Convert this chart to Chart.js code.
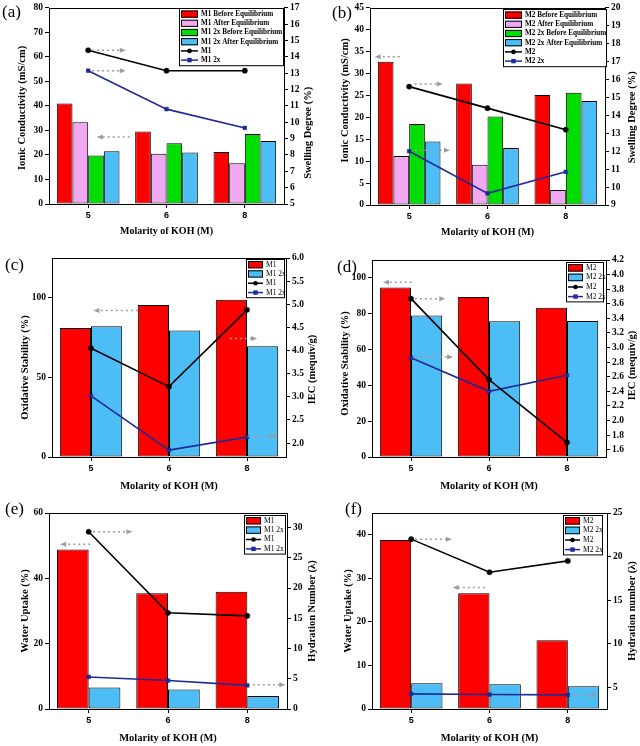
<!DOCTYPE html>
<html><head><meta charset="utf-8">
<script src="https://cdn.jsdelivr.net/npm/chart.js@4.4.0/dist/chart.umd.min.js"></script>
<style>
html,body{margin:0;padding:0;background:#fff;}
#fig{position:relative;width:640px;height:746px;overflow:hidden;background:#fff;}
#fig canvas{position:absolute;}
.lbl{position:absolute;font-family:'Liberation Serif',serif;font-size:17px;color:#000;line-height:1;}
</style></head>
<body><div id="fig"></div>
<script>
// ---------- data ----------
const molarity = ['5', '6', '8'];
// (a)
const m1BeforeEq   = [41.0, 29.5, 21.2];
const m1AfterEq    = [33.3, 20.5, 16.6];
const m12xBeforeEq = [19.8, 24.8, 28.5];
const m12xAfterEq  = [21.5, 21.0, 25.7];
const m1Swelling   = [14.4, 13.15, 13.15];
const m12xSwelling = [13.15, 10.8, 9.65];
// (b)
const m2BeforeEq   = [32.7, 27.7, 25.1];
const m2AfterEq    = [11.2, 9.2, 3.4];
const m22xBeforeEq = [18.5, 20.2, 25.6];
const m22xAfterEq  = [14.5, 13.0, 23.7];
const m2Swelling   = [15.6, 14.4, 13.2];
const m22xSwelling = [12.0, 9.65, 10.85];
// (c)
const m1Oxidative   = [81.0, 95.5, 98.8];
const m12xOxidative = [82.2, 79.5, 69.5];
const m1IEC   = [4.05, 3.22, 4.88];
const m12xIEC = [3.02, 1.85, 2.13];
// (d)
const m2Oxidative   = [94.6, 89.4, 83.3];
const m22xOxidative = [79.0, 75.8, 76.0];
const m2IEC   = [3.67, 2.56, 1.70];
const m22xIEC = [2.86, 2.40, 2.62];
// (e)
const m1WaterUptake   = [48.8, 35.4, 35.9];
const m12xWaterUptake = [6.6, 6.0, 4.0];
const m1Hydration   = [29.3, 15.9, 15.4];
const m12xHydration = [5.3, 4.7, 3.9];
// (f)
const m2WaterUptake   = [38.8, 26.6, 15.8];
const m22xWaterUptake = [5.9, 5.7, 5.2];
const m2Hydration   = [22.0, 18.2, 19.5];
const m22xHydration = [4.24, 4.16, 4.12];

// tick values
const ticksA  = [0,10,20,30,40,50,60,70,80];
const ticksA2 = [5,6,7,8,9,10,11,12,13,14,15,16,17];
const ticksB  = [0,5,10,15,20,25,30,35,40,45];
const ticksB2 = [9,10,11,12,13,14,15,16,17,18,19,20];
const ticksC  = [0,50,100];
const ticksC2 = [2.0,2.5,3.0,3.5,4.0,4.5,5.0,5.5,6.0];
const ticksD  = [0,20,40,60,80,100];
const ticksD2 = [1.6,1.8,2.0,2.2,2.4,2.6,2.8,3.0,3.2,3.4,3.6,3.8,4.0,4.2];
const ticksE  = [0,20,40,60];
const ticksE2 = [0,5,10,15,20,25,30];
const ticksF  = [0,10,20,30,40];
const ticksF2 = [5,10,15,20,25];

// ---------- styles ----------
const RED = '#ff0000', PINK = '#f0a8f0', GREEN = '#00dd00', BLUE = '#4dbdf5', NAVY = '#1f2a96', BLACK = '#000000';
Chart.defaults.font.family = "'Liberation Serif', serif";
Chart.defaults.color = '#000';

// ---------- plugins ----------
const framePlugin = {
  id: 'frame',
  afterDraw(chart) {
    const a = chart.chartArea, ctx = chart.ctx;
    ctx.save(); ctx.strokeStyle = '#000'; ctx.lineWidth = 1;
    const l = Math.round(a.left) + 0.5, t = Math.round(a.top) + 0.5;
    ctx.strokeRect(l, t, Math.round(a.right) - Math.round(a.left), Math.round(a.bottom) - Math.round(a.top));
    ctx.restore();
  }
};
const sideTitles = {
  id: 'sideTitles',
  afterDraw(chart, args, o) {
    const ctx = chart.ctx, a = chart.chartArea, mid = (a.top + a.bottom) / 2;
    ctx.save(); ctx.fillStyle = '#000'; ctx.textAlign = 'center'; ctx.textBaseline = 'middle';
    ctx.font = o.yFont;
    [[o.left, o.leftX, o.leftDy], [o.right, o.rightX, o.rightDy]].forEach(([t, x, dy]) => {
      ctx.save(); ctx.translate(x, mid + dy); ctx.rotate(-Math.PI / 2); ctx.fillText(t, 0, 0); ctx.restore();
    });
    ctx.font = o.xFont;
    ctx.fillText(o.bottom, (a.left + a.right) / 2, o.bottomY);
    ctx.restore();
  }
};
const boxLegend = {
  id: 'boxLegend',
  afterDraw(chart, args, o) {
    const ctx = chart.ctx, ds = chart.data.datasets, n = ds.length;
    const x0 = o.x, y0 = o.y, w = o.w, rh = o.rowH, h = rh * n + 2 * o.padY;
    ctx.save();
    ctx.fillStyle = '#fff'; ctx.fillRect(x0, y0, w, h);
    ctx.strokeStyle = '#000'; ctx.lineWidth = 1; ctx.strokeRect(x0 + 0.5, y0 + 0.5, w, h);
    ds.forEach((d, i) => {
      const cy = y0 + o.padY + rh * (i + 0.5) + 0.5;
      const sx = x0 + 2, sw = o.sw;
      if (d.type === 'line') {
        ctx.strokeStyle = d.borderColor; ctx.lineWidth = 1.5;
        ctx.beginPath(); ctx.moveTo(sx, cy); ctx.lineTo(sx + sw, cy); ctx.stroke();
        ctx.fillStyle = d.pointBackgroundColor;
        if (d.pointStyle === 'rect') ctx.fillRect(sx + sw / 2 - 2.2, cy - 2.2, 4.4, 4.4);
        else { ctx.beginPath(); ctx.arc(sx + sw / 2, cy, 2.3, 0, 2 * Math.PI); ctx.fill(); }
      } else {
        ctx.fillStyle = d.backgroundColor; ctx.fillRect(sx, cy - rh / 2 + 1, sw, rh - 2);
        ctx.strokeStyle = '#000'; ctx.lineWidth = 1; ctx.strokeRect(sx + 0.5, cy - rh / 2 + 1.5, sw - 1, rh - 3);
      }
      ctx.fillStyle = '#000'; ctx.font = o.font; ctx.textBaseline = 'middle'; ctx.textAlign = 'left';
      ctx.fillText(d.label, sx + sw + 3, cy);
    });
    ctx.restore();
  }
};
const dotArrows = {
  id: 'dotArrows',
  afterDatasetsDraw(chart, args, o) {
    const ctx = chart.ctx, xs = chart.scales.x;
    (o.list || []).forEach(a => {
      const y = chart.scales[a.axis].getPixelForValue(a.value);
      const x1 = xs.getPixelForValue(a.tail), x2 = xs.getPixelForValue(a.head);
      const dir = Math.sign(x2 - x1);
      ctx.save(); ctx.strokeStyle = '#9c9c9c'; ctx.fillStyle = '#9c9c9c'; ctx.lineWidth = 1.5;
      ctx.setLineDash([2, 3]);
      ctx.beginPath(); ctx.moveTo(x1, y); ctx.lineTo(x2 - dir * 5, y); ctx.stroke();
      ctx.setLineDash([]);
      ctx.beginPath(); ctx.moveTo(x2, y); ctx.lineTo(x2 - dir * 6, y - 2.5); ctx.lineTo(x2 - dir * 6, y + 2.5); ctx.closePath(); ctx.fill();
      ctx.restore();
    });
  }
};

// ---------- dataset helpers ----------
function bar(label, data, color) {
  return { type: 'bar', label, data, backgroundColor: color, borderColor: '#000', borderWidth: 1,
           borderSkipped: false, yAxisID: 'y', order: 1, categoryPercentage: 0.8, barPercentage: 1.0 };
}
function line(label, data, color, style) {
  return { type: 'line', label, data, borderColor: color, backgroundColor: color, borderWidth: 1.6,
           pointStyle: style, pointRadius: style === 'rect' ? 2.6 : 2.6, pointBackgroundColor: color,
           pointBorderColor: color, pointBorderWidth: 0.5, yAxisID: 'y2', order: 0, tension: 0 };
}

const tickFontY = { family: "'Liberation Serif', serif", size: 9.5, weight: 'bold' };
const tickFontX = { family: "'Liberation Sans', sans-serif", size: 9, weight: 'bold' };

function makePanel(p) {
  const fig = document.getElementById('fig');
  const c = document.createElement('canvas');
  c.width = 320; c.height = p.h;
  c.style.left = p.left + 'px'; c.style.top = p.top + 'px';
  c.style.width = '320px'; c.style.height = p.h + 'px';
  fig.appendChild(c);
  const lab = document.createElement('div');
  lab.className = 'lbl'; lab.textContent = p.tag;
  lab.style.left = (p.left + p.tagX) + 'px'; lab.style.top = (p.top + p.tagY) + 'px';
  fig.appendChild(lab);
  const grid = { drawOnChartArea: false, drawTicks: true, tickLength: 4, color: '#000', lineWidth: 1 };
  new Chart(c, {
    type: 'bar',
    data: { labels: molarity, datasets: p.datasets },
    options: {
      responsive: false, animation: false, devicePixelRatio: 1,
      layout: { padding: { top: p.padTop, left: 0, right: 0, bottom: 0 } },
      plugins: {
        legend: { display: false }, tooltip: { enabled: false },
        boxLegend: p.legend,
        dotArrows: { list: p.arrows },
        sideTitles: p.titles
      },
      scales: {
        x: { grid: Object.assign({}, grid, { offset: false }), border: { display: false },
             ticks: { font: tickFontX, color: '#000', padding: 2 },
             afterFit: s => { s.height = p.xH; } },
        y: { position: 'left', min: p.yMin, max: p.yMax, grid, border: { display: false },
             ticks: { font: tickFontY, color: '#000', padding: 2, callback: v => v.toFixed(p.yDec) },
             afterBuildTicks: s => { s.ticks = p.yTicks.map(v => ({ value: v })); },
             afterFit: s => { s.width = p.leftW; } },
        y2: { position: 'right', min: p.y2Min, max: p.y2Max, grid, border: { display: false },
              ticks: { font: tickFontY, color: '#000', padding: 2, callback: v => v.toFixed(p.y2Dec) },
              afterBuildTicks: s => { s.ticks = p.y2Ticks.map(v => ({ value: v })); },
              afterFit: s => { s.width = p.rightW; } }
      }
    },
    plugins: [dotArrows, sideTitles, framePlugin, boxLegend]
  });
}

const bigLegendFont = "bold 7.2px 'Liberation Serif'";
const smallLegendFont = "7.5px 'Liberation Serif'";
const yTitleFont = "bold 10.5px 'Liberation Serif'";
const xTitleFont = "bold 10px 'Liberation Serif'";

// (a)
makePanel({
  left: 0, top: 0, h: 240, tag: '(a)', tagX: 2, tagY: 3,
  padTop: 5, leftW: 49, rightW: 36, xH: 36,
  yMin: 0, yMax: 80, yTicks: ticksA, yDec: 0, y2Min: 5, y2Max: 17, y2Ticks: ticksA2, y2Dec: 0,
  datasets: [
    bar('M1 Before Equilibrium', m1BeforeEq, RED),
    bar('M1 After Equilibrium', m1AfterEq, PINK),
    bar('M1 2x Before Equilibrium', m12xBeforeEq, GREEN),
    bar('M1 2x After Equilibrium', m12xAfterEq, BLUE),
    line('M1', m1Swelling, BLACK, 'circle'),
    line('M1 2x', m12xSwelling, NAVY, 'rect')
  ],
  legend: { x: 179, y: 8, w: 104, rowH: 9.2, padY: 1, sw: 17, font: bigLegendFont },
  arrows: [
    { tail: 0.05, head: 0.48, axis: 'y2', value: 14.4 },
    { tail: 0.05, head: 0.48, axis: 'y2', value: 13.15 },
    { tail: 0.53, head: 0.11, axis: 'y', value: 27.3 }
  ],
  titles: { left: 'Ionic Conductivity (mS/cm)', leftX: 22, leftDy: 2, right: 'Swelling Degree (%)', rightX: 308, rightDy: 27,
            bottom: 'Molarity of KOH (M)', bottomY: 231, yFont: yTitleFont, xFont: xTitleFont }
});
// (b)
makePanel({
  left: 320, top: 0, h: 240, tag: '(b)', tagX: 12, tagY: 4,
  padTop: 5, leftW: 50, rightW: 35, xH: 35,
  yMin: 0, yMax: 45, yTicks: ticksB, yDec: 0, y2Min: 9, y2Max: 20, y2Ticks: ticksB2, y2Dec: 0,
  datasets: [
    bar('M2 Before Equilibrium', m2BeforeEq, RED),
    bar('M2 After Equilibrium', m2AfterEq, PINK),
    bar('M2 2x Before Equilibrium', m22xBeforeEq, GREEN),
    bar('M2 2x After Equilibrium', m22xAfterEq, BLUE),
    line('M2', m2Swelling, BLACK, 'circle'),
    line('M2 2x', m22xSwelling, NAVY, 'rect')
  ],
  legend: { x: 183, y: 9, w: 103, rowH: 9.2, padY: 1, sw: 17, font: bigLegendFont },
  arrows: [
    { tail: -0.12, head: -0.44, axis: 'y', value: 33.8 },
    { tail: 0.07, head: 0.43, axis: 'y2', value: 15.75 },
    { tail: 0.07, head: 0.52, axis: 'y2', value: 12.05 }
  ],
  titles: { left: 'Ionic Conductivity (mS/cm)', leftX: 25, leftDy: -6, right: 'Swelling Degree (%)', rightX: 312, rightDy: 11,
            bottom: 'Molarity of KOH (M)', bottomY: 232, yFont: yTitleFont, xFont: xTitleFont }
});
// (c)
makePanel({
  left: 0, top: 240, h: 256, tag: '(c)', tagX: 5, tagY: 16,
  padTop: 18, leftW: 52, rightW: 34, xH: 39,
  yMin: 0, yMax: 125, yTicks: ticksC, yDec: 0, y2Min: 1.7, y2Max: 6.0, y2Ticks: ticksC2, y2Dec: 1,
  datasets: [
    bar('M1', m1Oxidative, RED),
    bar('M1 2x', m12xOxidative, BLUE),
    line('M1', m1IEC, BLACK, 'circle'),
    line('M1 2x', m12xIEC, NAVY, 'rect')
  ],
  legend: { x: 246, y: 19, w: 38, rowH: 9.3, padY: 0.5, sw: 15, font: smallLegendFont },
  arrows: [
    { tail: 0.60, head: 0.03, axis: 'y', value: 92 },
    { tail: 1.78, head: 2.13, axis: 'y2', value: 4.26 },
    { tail: 2.01, head: 2.38, axis: 'y2', value: 2.15 }
  ],
  titles: { left: 'Oxidative Stability (%)', leftX: 25, leftDy: 10, right: 'IEC (mequiv/g)', rightX: 312, rightDy: 12,
            bottom: 'Molarity of KOH (M)', bottomY: 246, yFont: yTitleFont, xFont: "bold 10.5px 'Liberation Serif'" }
});
// (d)
makePanel({
  left: 320, top: 240, h: 256, tag: '(d)', tagX: 17, tagY: 18,
  padTop: 20, leftW: 52, rightW: 34, xH: 39,
  yMin: 0, yMax: 110, yTicks: ticksD, yDec: 0, y2Min: 1.5, y2Max: 4.2, y2Ticks: ticksD2, y2Dec: 1,
  datasets: [
    bar('M2', m2Oxidative, RED),
    bar('M2 2x', m22xOxidative, BLUE),
    line('M2', m2IEC, BLACK, 'circle'),
    line('M2 2x', m22xIEC, NAVY, 'rect')
  ],
  legend: { x: 246, y: 22, w: 37, rowH: 9.6, padY: 0.5, sw: 15, font: smallLegendFont },
  arrows: [
    { tail: 0.01, head: -0.36, axis: 'y', value: 97.6 },
    { tail: 0.05, head: 0.44, axis: 'y2', value: 3.67 },
    { tail: 0.05, head: 0.54, axis: 'y2', value: 2.87 }
  ],
  titles: { left: 'Oxidative Stability (%)', leftX: 25, leftDy: 5, right: 'IEC (mequiv/g)', rightX: 312, rightDy: 7,
            bottom: 'Molarity of KOH (M)', bottomY: 246, yFont: yTitleFont, xFont: "bold 10.5px 'Liberation Serif'" }
});
// (e)
makePanel({
  left: 0, top: 490, h: 256, tag: '(e)', tagX: 5, tagY: 10,
  padTop: 23, leftW: 49, rightW: 33, xH: 37,
  yMin: 0, yMax: 60, yTicks: ticksE, yDec: 0, y2Min: 0, y2Max: 32.4, y2Ticks: ticksE2, y2Dec: 0,
  datasets: [
    bar('M1', m1WaterUptake, RED),
    bar('M1 2x', m12xWaterUptake, BLUE),
    line('M1', m1Hydration, BLACK, 'circle'),
    line('M1 2x', m12xHydration, NAVY, 'rect')
  ],
  legend: { x: 244, y: 25, w: 41, rowH: 9.4, padY: 0.5, sw: 15, font: smallLegendFont },
  arrows: [
    { tail: 0.055, head: 0.55, axis: 'y2', value: 29.3 },
    { tail: 0.02, head: -0.36, axis: 'y', value: 50.4 },
    { tail: 2.07, head: 2.48, axis: 'y2', value: 4.0 }
  ],
  titles: { left: 'Water Uptake (%)', leftX: 25, leftDy: 0, right: 'Hydration Number (λ)', rightX: 312, rightDy: 0,
            bottom: 'Molarity of KOH (M)', bottomY: 248, yFont: yTitleFont, xFont: "bold 10.5px 'Liberation Serif'" }
});
// (f)
makePanel({
  left: 320, top: 490, h: 256, tag: '(f)', tagX: 25, tagY: 10,
  padTop: 23, leftW: 52, rightW: 33, xH: 37,
  yMin: 0, yMax: 45, yTicks: ticksF, yDec: 0, y2Min: 2.5, y2Max: 25, y2Ticks: ticksF2, y2Dec: 0,
  datasets: [
    bar('M2', m2WaterUptake, RED),
    bar('M2 2x', m22xWaterUptake, BLUE),
    line('M2', m2Hydration, BLACK, 'circle'),
    line('M2 2x', m22xHydration, NAVY, 'rect')
  ],
  legend: { x: 243, y: 25, w: 39, rowH: 9.6, padY: 0.5, sw: 15, font: smallLegendFont },
  arrows: [
    { tail: 0.05, head: 0.52, axis: 'y2', value: 22.0 },
    { tail: 0.94, head: 0.53, axis: 'y', value: 27.9 },
    { tail: 2.07, head: 2.37, axis: 'y2', value: 4.1 }
  ],
  titles: { left: 'Water Uptake (%)', leftX: 28, leftDy: 0, right: 'Hydration number (λ)', rightX: 312, rightDy: 0,
            bottom: 'Molarity of KOH (M)', bottomY: 248, yFont: yTitleFont, xFont: "bold 10.5px 'Liberation Serif'" }
});
</script>
</body></html>
